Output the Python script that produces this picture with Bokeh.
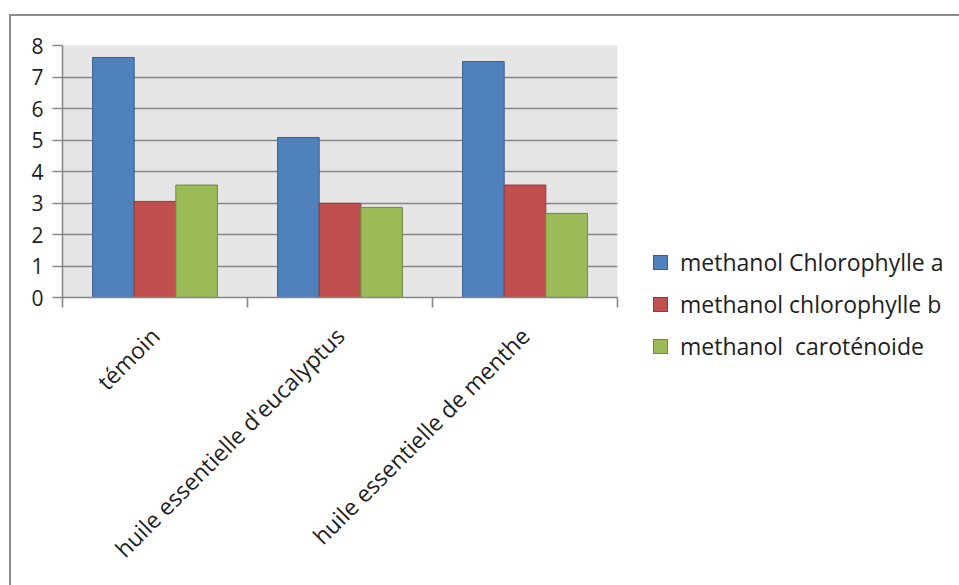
from math import pi

from bokeh.embed import file_html
from bokeh.layouts import row
from bokeh.models import ColumnDataSource, Div, FixedTicker, Range1d
from bokeh.plotting import figure
from bokeh.resources import INLINE

# Pigment content per treatment (methanol extraction)
categories = ["témoin", "huile essentielle d'eucalyptus", "huile essentielle de menthe"]
series_names = ["methanol Chlorophylle a", "methanol chlorophylle b", "methanol  caroténoide"]
chlorophylle_a = [7.62, 5.08, 7.49]
chlorophylle_b = [3.05, 2.99, 3.57]
carotenoide = [3.57, 2.86, 2.67]
y_ticks = [0, 1, 2, 3, 4, 5, 6, 7, 8]

fill_colors = ["#4f81bd", "#c0504d", "#9bbb59"]
line_colors = ["#3b5f8c", "#8e3b39", "#72893f"]
series_values = [chlorophylle_a, chlorophylle_b, carotenoide]

FONT = "Open Sans"
TEXT_COLOR = "#1e1e1e"
AXIS_GREY = "#868686"
FRAME_GREY = "#8c8c8c"

# ---- chart panel -------------------------------------------------------
p = figure(
    width=620, height=585,
    x_range=Range1d(0, len(categories)), y_range=Range1d(0, 8),
    output_backend="svg", toolbar_location=None,
    min_border_left=62, min_border_right=3,
    min_border_top=45, min_border_bottom=288,
)
p.background_fill_color = "#e6e6e6"
p.border_fill_color = None
p.outline_line_color = None
# outer chart-area frame along the top and left edges
p.styles = {"box-shadow": f"inset 9px 14px 0 0 #ffffff, inset 11px 16px 0 0 {FRAME_GREY}"}

bar_w = 0.225
offsets = [-bar_w, 0.0, bar_w]
centres = [i + 0.5 for i in range(len(categories))]

for vals, off, fc, lc in zip(series_values, offsets, fill_colors, line_colors):
    src = ColumnDataSource(dict(x=[c + off for c in centres], top=vals))
    p.vbar(x="x", top="top", width=bar_w, bottom=0, source=src,
           fill_color=fc, line_color=lc, line_width=1)

# grid
p.xgrid.visible = False
p.ygrid.ticker = FixedTicker(ticks=y_ticks)
p.ygrid.grid_line_color = AXIS_GREY
p.ygrid.grid_line_width = 1.6

# y axis
p.yaxis.ticker = FixedTicker(ticks=y_ticks)
p.yaxis.axis_line_color = AXIS_GREY
p.yaxis.axis_line_width = 1.6
p.yaxis.major_tick_line_color = AXIS_GREY
p.yaxis.major_tick_line_width = 1.6
p.yaxis.major_tick_out = 10
p.yaxis.major_tick_in = 0
p.yaxis.minor_tick_line_color = None
p.yaxis.major_label_standoff = 9
p.yaxis.major_label_text_font = FONT
p.yaxis.major_label_text_font_size = "21px"
p.yaxis.major_label_text_color = TEXT_COLOR

# x axis: labels at group centres, tick marks at group boundaries
p.xaxis.ticker = FixedTicker(ticks=centres, minor_ticks=list(range(len(categories) + 1)))
p.xaxis.major_label_overrides = {c: name for c, name in zip(centres, categories)}
p.xaxis.major_label_orientation = pi / 4
p.xaxis.axis_line_color = AXIS_GREY
p.xaxis.axis_line_width = 1.6
p.xaxis.major_tick_line_color = None
p.xaxis.major_tick_out = 0
p.xaxis.major_tick_in = 0
p.xaxis.minor_tick_line_color = AXIS_GREY
p.xaxis.minor_tick_line_width = 1.6
p.xaxis.minor_tick_out = 10
p.xaxis.minor_tick_in = 0
p.xaxis.major_label_standoff = 24
p.xaxis.major_label_text_font = FONT
p.xaxis.major_label_text_font_size = "23px"
p.xaxis.major_label_text_color = TEXT_COLOR

# ---- legend panel ------------------------------------------------------
ROW_TOP = 248      # top of the first legend row
ROW_STEP = 42      # distance between rows
ROW_H = 28

rows_html = []
for k, (name, fc, lc) in enumerate(zip(series_names, fill_colors, line_colors)):
    top = ROW_TOP + k * ROW_STEP
    rows_html.append(
        f'<div style="position:absolute; left:33px; top:{top}px; height:{ROW_H}px; '
        f'display:flex; align-items:center; white-space:pre;">'
        f'<span style="display:inline-block; width:15px; height:15px; background:{fc}; '
        f'border:1px solid {lc}; margin-right:12px;"></span>'
        f'<span style="font-family:\'{FONT}\'; font-size:23px; color:{TEXT_COLOR}; '
        f'line-height:{ROW_H}px;">{name}</span></div>'
    )

legend_div = Div(
    text='<div style="position:relative; width:339px; height:585px;">' + "".join(rows_html) + "</div>",
    width=339, height=585, margin=0,
    styles={"box-shadow": f"inset 0 14px 0 0 #ffffff, inset 0 16px 0 0 {FRAME_GREY}"},
)

layout = row(p, legend_div, spacing=0)
open("out.html", "w").write(file_html(layout, INLINE))
